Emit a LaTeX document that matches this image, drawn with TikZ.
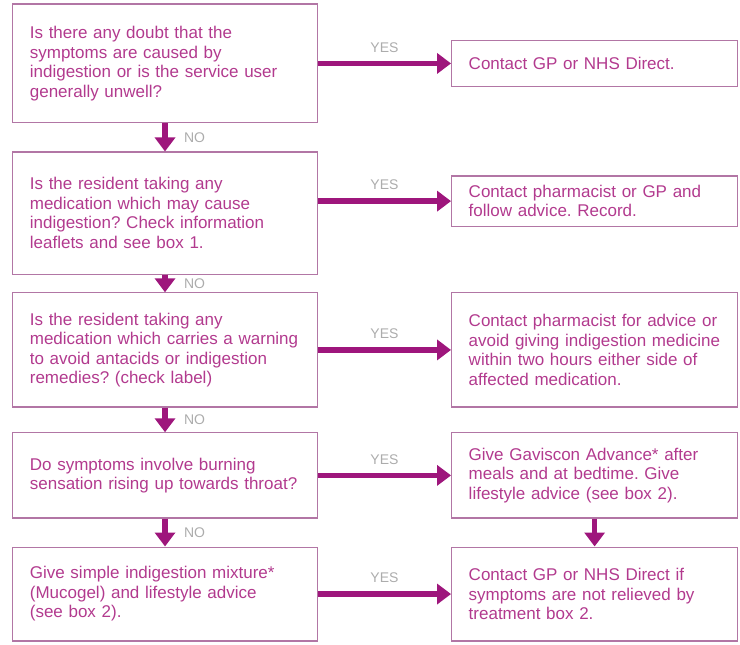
\documentclass[tikz,border=0pt]{standalone}
\definecolor{flowpink}{RGB}{178, 58, 142}
\definecolor{flowline}{RGB}{178, 118, 165}
\definecolor{flowarrow}{RGB}{158, 22, 124}
\definecolor{flowgrey}{RGB}{172, 172, 172}
\usepackage{fontspec}
\setmainfont{Liberation Sans}
\usepackage{tikz}
\usetikzlibrary{arrows.meta, positioning}
\newcommand{\flowfont}{\fontsize{17}{19.5}\selectfont\frenchspacing}
\newcommand{\lblfont}{\fontsize{14}{16}\selectfont}

\begin{document}
\begin{tikzpicture}[
  qbox/.style={draw=flowline, line width=1.2pt, text=flowpink, text width=9.5cm, align=left, inner xsep=0.6cm, inner ysep=4pt, font=\flowfont},
  abox/.style={draw=flowline, line width=1.2pt, text=flowpink, text width=8.85cm, align=left, inner xsep=0.6cm, inner ysep=4pt, font=\flowfont},
  flowarrow/.style={draw=flowarrow, line width=5.5pt, -{Triangle[length=14pt, width=20pt]}},
  yeslbl/.style={text=flowgrey, font=\lblfont, above=5pt},
  nolbl/.style={text=flowgrey, font=\lblfont, right=13pt}
]
  \useasboundingbox (0, 0) rectangle (26.01, 22.67);

  % question column
  \node[qbox, minimum height=4.18cm] (q1) at (5.80, 20.44) {
    Is there any doubt that the\\ symptoms are caused by\\
    indigestion or is the service user\\ generally unwell?
  };
  \node[qbox, minimum height=4.29cm] (q2) at (5.80, 15.18) {
    Is the resident taking any\\ medication which may cause\\
    indigestion? Check information\\ leaflets and see box 1.
  };
  \node[qbox, minimum height=4.01cm] (q3) at (5.80, 10.37) {
    Is the resident taking any\\ medication which carries a warning\\
    to avoid antacids or indigestion\\ remedies? (check label)
  };
  \node[qbox, minimum height=2.99cm] (q4) at (5.80, 5.96) {
    Do symptoms involve burning\\ sensation rising up towards throat?
  };
  \node[qbox, minimum height=3.30cm] (q5) at (5.80, 1.79) {
    Give simple indigestion mixture*\\ (Mucogel) and lifestyle advice\\
    (see box 2).
  };

  % action column
  \node[abox, minimum height=1.62cm] (a1) at (20.90, 20.44) {
    Contact GP or NHS Direct.
  };
  \node[abox, minimum height=1.76cm] (a2) at (20.90, 15.60) {
    Contact pharmacist or GP and\\ follow advice. Record.
  };
  \node[abox, minimum height=4.01cm] (a3) at (20.90, 10.37) {
    Contact pharmacist for advice or\\ avoid giving indigestion medicine\\
    within two hours either side of\\ affected medication.
  };
  \node[abox, minimum height=2.99cm] (a4) at (20.90, 5.96) {
    Give Gaviscon Advance* after\\ meals and at bedtime. Give\\
    lifestyle advice (see box 2).
  };
  \node[abox, minimum height=3.30cm] (a5) at (20.90, 1.79) {
    Contact GP or NHS Direct if\\ symptoms are not relieved by\\
    treatment box 2.
  };

  % YES arrows
  \draw[flowarrow] (q1) -- node[yeslbl] {YES} (a1);
  \draw[flowarrow] (q2.east |- a2.west) -- node[yeslbl] {YES} (a2.west);
  \draw[flowarrow] (q3) -- node[yeslbl] {YES} (a3);
  \draw[flowarrow] (q4) -- node[yeslbl] {YES} (a4);
  \draw[flowarrow] (q5) -- node[yeslbl] {YES} (a5);

  % NO arrows
  \draw[flowarrow] (q1) -- node[nolbl] {NO} (q2);
  \draw[flowarrow] (q2) -- node[nolbl] {NO} (q3);
  \draw[flowarrow] (q3) -- node[nolbl] {NO} (q4);
  \draw[flowarrow] (q4) -- node[nolbl] {NO} (q5);
  \draw[flowarrow] (a4) -- (a5);
\end{tikzpicture}
\end{document}
